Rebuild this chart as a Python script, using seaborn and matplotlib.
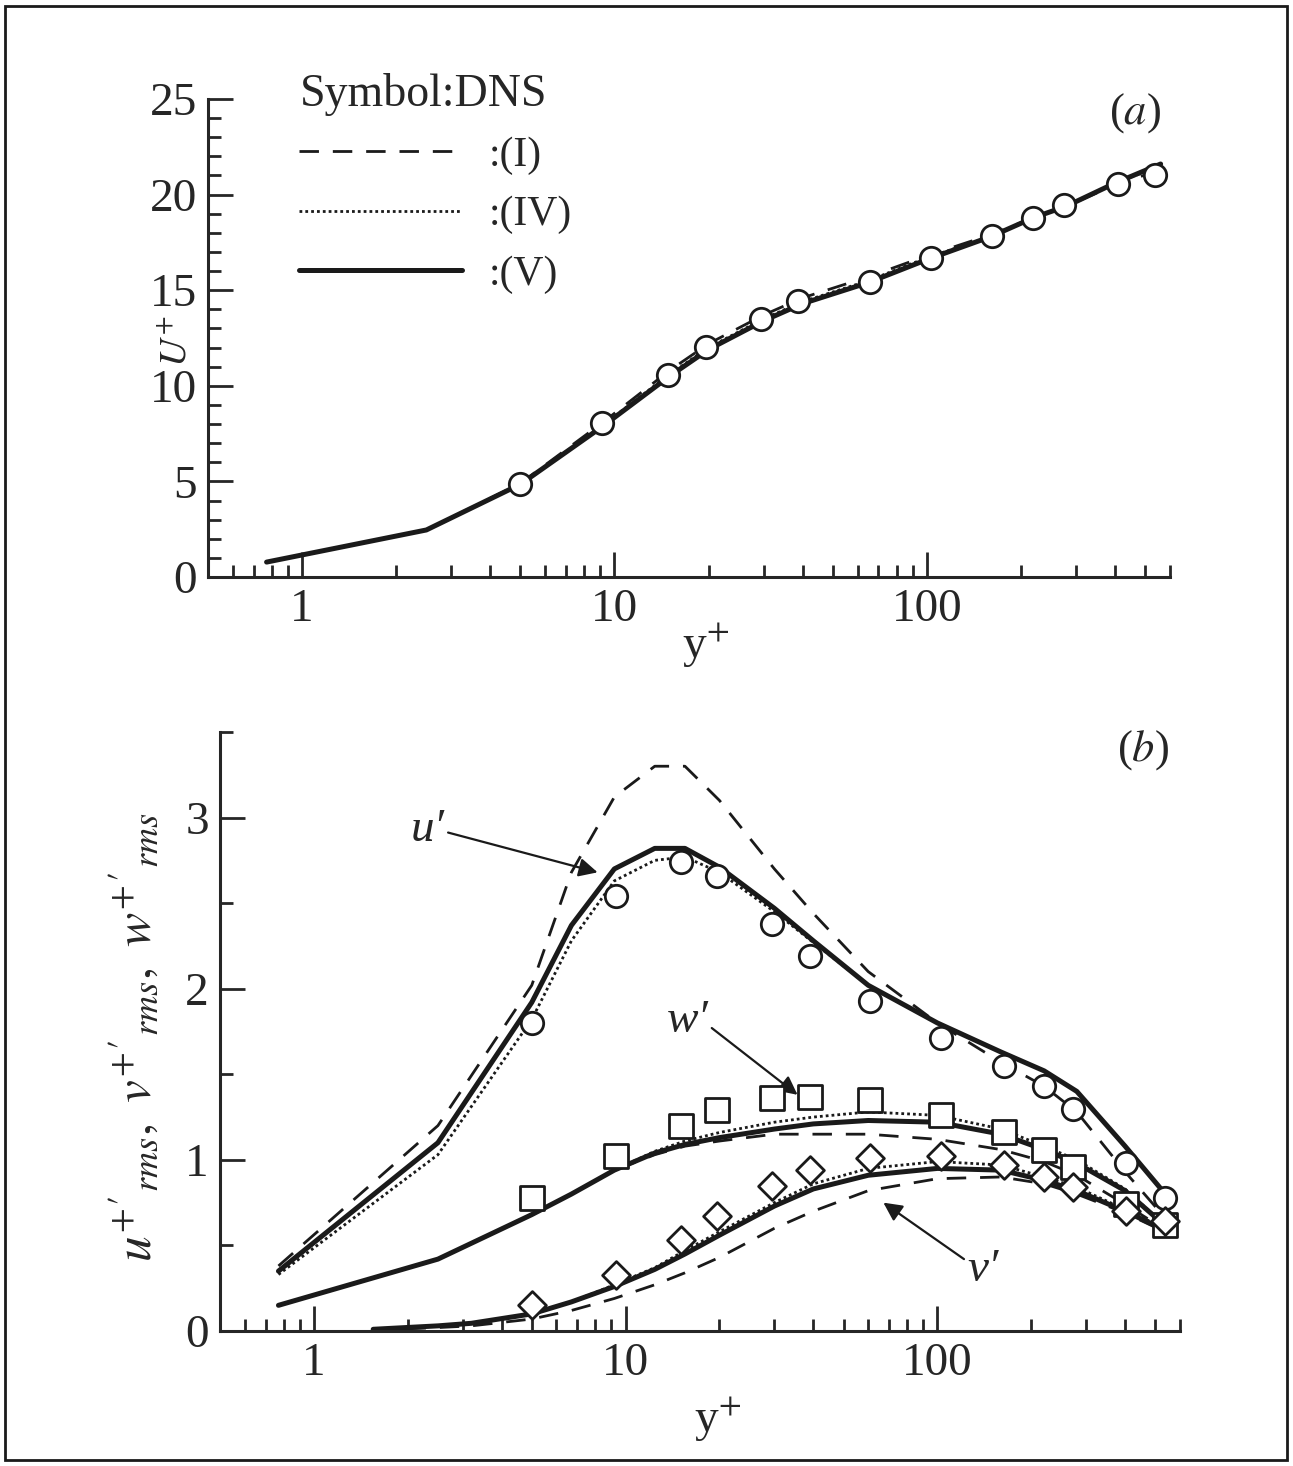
import matplotlib
matplotlib.use("Agg")
import matplotlib.pyplot as plt
from matplotlib.patches import Rectangle
from matplotlib.lines import Line2D
from matplotlib.ticker import LogLocator, NullFormatter, MultipleLocator, FixedLocator
import seaborn as sns
import numpy as np

# %%
# ---------------- data ----------------
# (a) mean velocity
dns_yp = [5.0, 9.15, 14.8, 19.7, 29.4, 38.6, 65.6, 103, 161, 219, 275, 409, 538]
dns_U = [4.87, 8.06, 10.58, 12.04, 13.5, 14.45, 15.45, 16.7, 17.85, 18.8, 19.48, 20.58, 21.05]

les_yp = [0.77, 2.5, 5.0, 9.2, 15, 20, 30, 40, 65, 100, 160, 220, 280, 400, 560]
U_I = [0.78, 2.46, 4.9, 8.1, 10.8, 12.2, 13.7, 14.6, 15.7, 16.8, 17.9, 18.8, 19.4, 20.5, 21.3]
U_IV = [0.78, 2.46, 4.85, 7.95, 10.6, 12.0, 13.5, 14.4, 15.5, 16.7, 17.8, 18.8, 19.4, 20.6, 21.5]
U_V = [0.78, 2.46, 4.85, 7.9, 10.5, 11.9, 13.4, 14.3, 15.4, 16.6, 17.8, 18.8, 19.4, 20.6, 21.6]

# (b) rms fluctuations
dns_yp_b = [5.0, 9.3, 15.0, 19.7, 29.4, 39.0, 61, 103, 164, 220, 273, 403, 538]
dns_u = [1.80, 2.54, 2.74, 2.66, 2.38, 2.19, 1.93, 1.71, 1.55, 1.43, 1.30, 0.98, 0.78]
dns_w = [0.78, 1.02, 1.20, 1.29, 1.36, 1.37, 1.35, 1.26, 1.16, 1.06, 0.96, 0.74, 0.62]
dns_v = [0.15, 0.33, 0.53, 0.67, 0.85, 0.94, 1.01, 1.02, 0.97, 0.90, 0.84, 0.70, 0.64]

rms_yp = [0.77, 2.5, 5, 6.7, 9.2, 12.4, 15.5, 20, 30, 40, 60, 100, 160, 220, 280, 400, 550]
u_I = [0.38, 1.2, 2.02, 2.68, 3.12, 3.3, 3.3, 3.1, 2.7, 2.44, 2.1, 1.8, 1.57, 1.43, 1.28, 0.93, 0.64]
u_IV = [0.33, 1.03, 1.82, 2.28, 2.63, 2.75, 2.77, 2.68, 2.45, 2.27, 2.02, 1.8, 1.63, 1.52, 1.4, 1.08, 0.78]
u_V = [0.35, 1.1, 1.92, 2.37, 2.7, 2.82, 2.82, 2.71, 2.47, 2.28, 2.02, 1.8, 1.63, 1.52, 1.4, 1.08, 0.78]

w_I = [0.15, 0.42, 0.68, 0.8, 0.94, 1.03, 1.08, 1.11, 1.15, 1.15, 1.15, 1.12, 1.06, 0.99, 0.91, 0.74, 0.58]
w_IV = [0.15, 0.42, 0.68, 0.8, 0.94, 1.05, 1.11, 1.16, 1.22, 1.25, 1.28, 1.26, 1.18, 1.08, 1.0, 0.83, 0.6]
w_V = [0.15, 0.42, 0.68, 0.8, 0.94, 1.04, 1.09, 1.13, 1.18, 1.21, 1.23, 1.22, 1.15, 1.06, 0.98, 0.82, 0.6]

v_yp = [1.55, 2.5, 3.2, 5, 6.7, 9.2, 12.4, 15.5, 20, 30, 40, 60, 100, 160, 220, 280, 400, 550]
v_I = [0.005, 0.02, 0.03, 0.07, 0.12, 0.19, 0.27, 0.34, 0.43, 0.6, 0.7, 0.82, 0.89, 0.9, 0.86, 0.8, 0.69, 0.57]
v_IV = [0.01, 0.03, 0.045, 0.1, 0.17, 0.27, 0.37, 0.47, 0.58, 0.75, 0.86, 0.95, 0.99, 0.97, 0.9, 0.84, 0.71, 0.59]
v_V = [0.01, 0.03, 0.045, 0.1, 0.17, 0.26, 0.36, 0.45, 0.56, 0.73, 0.83, 0.91, 0.95, 0.94, 0.88, 0.82, 0.7, 0.58]

# %%
sns.set_theme(style="ticks")
plt.rcParams['font.family'] = ['Liberation Serif', 'DejaVu Serif']
plt.rcParams['mathtext.fontset'] = 'stix'

DASH = (0, (7, 5))
DOT = (0, (1, 1.1))
LW_SOLID = 3.6
LW_THIN = 2.0


def draw_models(ax, x, yI, yIV, yV):
    sns.lineplot(x=x, y=yI, ax=ax, color='k', lw=LW_THIN, linestyle=DASH, sort=False, estimator=None)
    sns.lineplot(x=x, y=yIV, ax=ax, color='k', lw=LW_THIN, linestyle=DOT, sort=False, estimator=None)
    sns.lineplot(x=x, y=yV, ax=ax, color='k', lw=LW_SOLID, sort=False, estimator=None)


def dns_points(ax, x, y, marker, s=260):
    sns.scatterplot(x=x, y=y, ax=ax, marker=marker, s=s, facecolor='white',
                    edgecolor='k', linewidth=2.0, zorder=5)


def style_axis(ax, ymajor, yminor, ylim):
    ax.set_xscale('log')
    ax.set_xlim(0.5, 600)
    ax.set_ylim(*ylim)
    ax.xaxis.set_major_locator(FixedLocator([1, 10, 100]))
    ax.xaxis.set_minor_locator(LogLocator(base=10, subs=np.arange(2, 10)))
    ax.xaxis.set_minor_formatter(NullFormatter())
    ax.set_xticklabels(['1', '10', '100'])
    ax.yaxis.set_major_locator(MultipleLocator(ymajor))
    ax.yaxis.set_minor_locator(MultipleLocator(yminor))
    ax.tick_params(which='both', direction='in', top=False, right=False, width=2, labelsize=34, pad=8)
    ax.tick_params(which='major', length=18)
    ax.tick_params(which='minor', length=9)
    sns.despine(ax=ax)
    for sp in ['left', 'bottom']:
        ax.spines[sp].set_linewidth(2.2)


W, H = 1293, 1466
fig = plt.figure(figsize=(W / 100, H / 100), dpi=100)
fig.patch.set_facecolor('white')

# ---------------- (a) ----------------
ax1 = fig.add_axes([208 / W, 1 - 577 / H, (1170 - 208) / W, (577 - 99) / H])
draw_models(ax1, les_yp, U_I, U_IV, U_V)
dns_points(ax1, dns_yp, dns_U, 'o')
style_axis(ax1, 5, 1, (0, 25))
ax1.set_xlabel(r'y$^{+}$', fontsize=34)
ax1.xaxis.set_label_coords(0.517, -0.09)
ax1.set_ylabel(r'$U^{+}$', fontsize=28)
ax1.yaxis.set_label_coords(-0.014, 0.493)
ax1.text(0.964, 0.971, r'($\mathit{a}$)', transform=ax1.transAxes, fontsize=32, ha='center', va='center')

handles = [Line2D([], [], color='k', lw=LW_THIN, linestyle=DASH),
           Line2D([], [], color='k', lw=LW_THIN, linestyle=DOT),
           Line2D([], [], color='k', lw=LW_SOLID)]
leg = ax1.legend(handles, [':(I)', ':(IV)', ':(V)'], title='Symbol:DNS', loc='upper left',
                 bbox_to_anchor=(0.095, 1.055), frameon=False, fontsize=30, title_fontsize=33,
                 handlelength=3.9, handletextpad=0.65, labelspacing=0.5, alignment='left',
                 borderpad=0, borderaxespad=0)

# ---------------- (b) ----------------
ax2 = fig.add_axes([220 / W, 1 - 1331 / H, (1180 - 220) / W, (1331 - 732) / H])
draw_models(ax2, rms_yp, u_I, u_IV, u_V)
draw_models(ax2, rms_yp, w_I, w_IV, w_V)
draw_models(ax2, v_yp, v_I, v_IV, v_V)
dns_points(ax2, dns_yp_b, dns_u, 'o')
dns_points(ax2, dns_yp_b, dns_w, 's', s=280)
dns_points(ax2, dns_yp_b, dns_v, 'D', s=200)
style_axis(ax2, 1, 0.5, (0, 3.5))
ax2.set_xlabel(r'y$^{+}$', fontsize=34)
ax2.xaxis.set_label_coords(0.518, -0.105)
ax2.set_ylabel(r"$u^{+}{}'_{rms},\ v^{+}{}'_{rms},\ w^{+}{}'_{rms}$", fontsize=37)
ax2.yaxis.set_label_coords(-0.06, 0.49)
ax2.text(0.961, 0.97, r'($\mathit{b}$)', transform=ax2.transAxes, fontsize=32, ha='center', va='center')

arrow = dict(arrowstyle='-|>', color='k', lw=1.6, mutation_scale=28, shrinkA=0, shrinkB=0)
ax2.annotate("u\u2032", xy=(8.13, 2.68), xytext=(2.32, 2.93), fontsize=34, ha='center', va='center',
             fontstyle='italic', arrowprops=dict(arrow, relpos=(1.0, 0.45)))
ax2.annotate("w\u2032", xy=(35.6, 1.38), xytext=(15.8, 1.81), fontsize=34, ha='center', va='center',
             fontstyle='italic', arrowprops=dict(arrow, relpos=(1.0, 0.4)))
ax2.annotate("v\u2032", xy=(67.1, 0.75), xytext=(140, 0.357), fontsize=34, ha='center', va='center',
             fontstyle='italic', arrowprops=dict(arrow, relpos=(0.0, 0.7)))

# outer frame
fig.patches.append(Rectangle((5 / W, 6 / H), (1287 - 5) / W, (1460 - 6) / H, transform=fig.transFigure,
                             fill=False, edgecolor='k', lw=2))

fig.savefig('out.png', dpi=100)
